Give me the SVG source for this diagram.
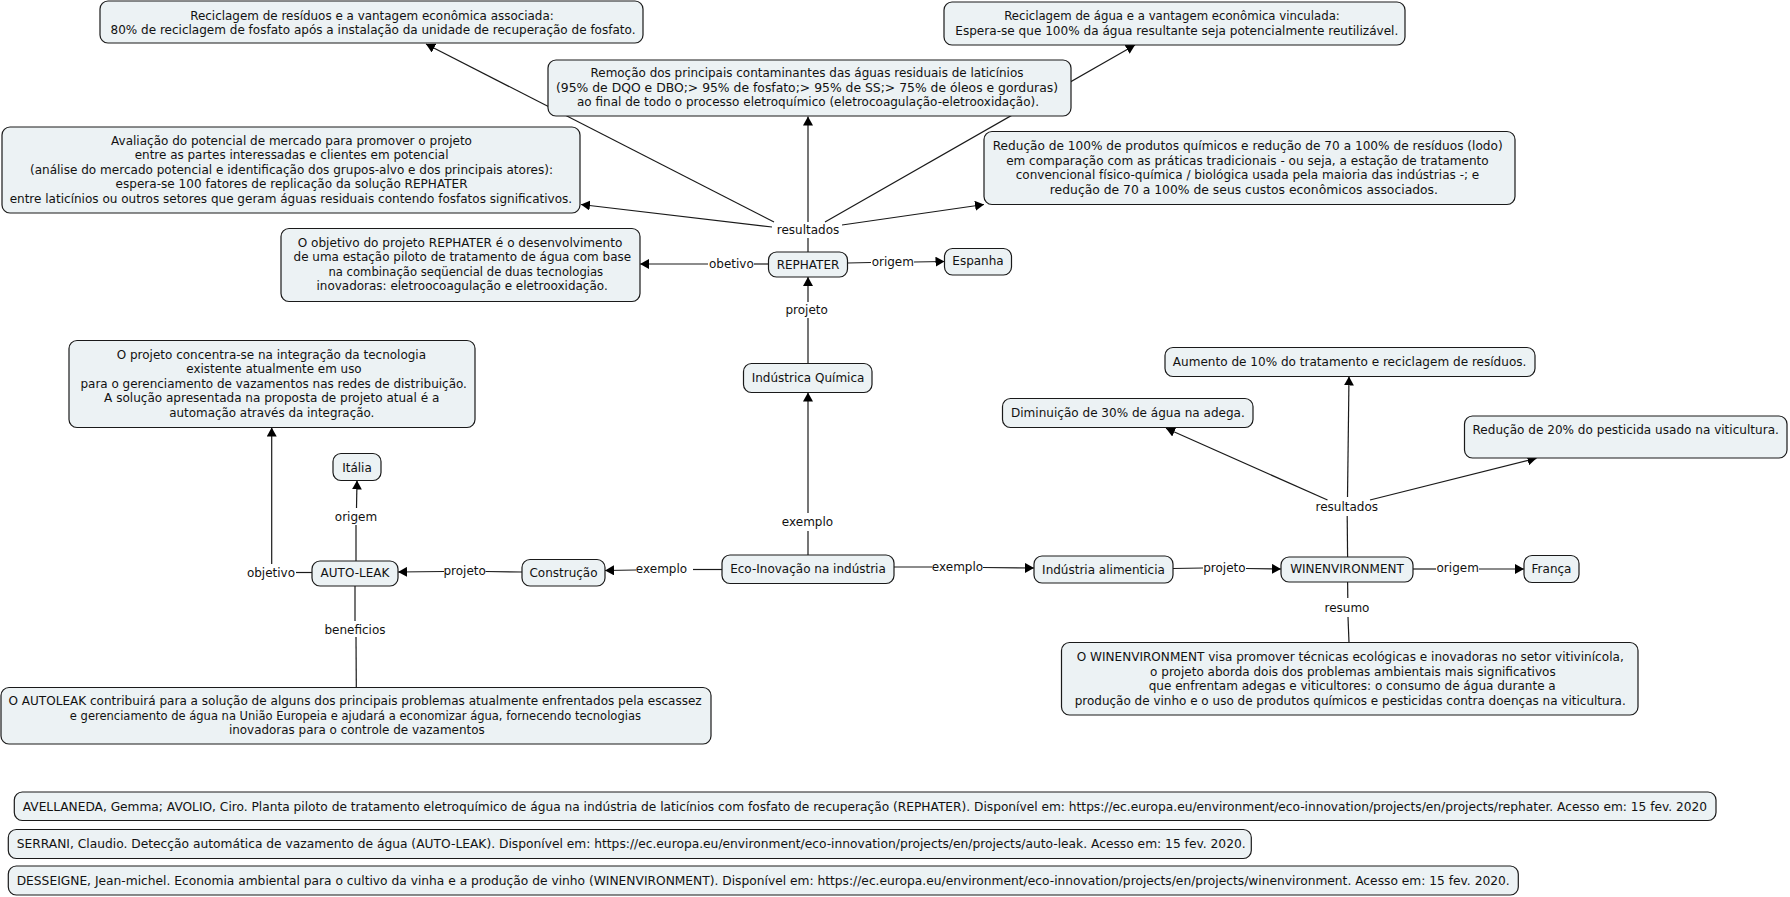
<svg xmlns="http://www.w3.org/2000/svg" width="1790" height="897" viewBox="0 0 1790 897">
<style>
  .n rect { fill: #ecf2f4; stroke: #1a1a1a; stroke-width: 1.2; }
  text { font-family: "DejaVu Sans", Verdana, sans-serif; font-size: 12px; fill: #111; text-anchor: middle; }
  .c line { stroke: #1a1a1a; stroke-width: 1.2; fill: none; }
  .c .a { marker-end: url(#arr); }
</style>
<defs>
  <marker id="arr" viewBox="0 0 9 10" refX="9" refY="5" markerWidth="9" markerHeight="10" markerUnits="userSpaceOnUse" orient="auto">
    <path d="M0,0 L9,5 L0,10 z" fill="#000"/>
  </marker>
</defs>
<rect width="1790" height="897" fill="#fff"/>

<g id="connectors" class="c">
  <line x1="808" y1="252" x2="808" y2="238"/>
  <line class="a" x1="808" y1="222" x2="808" y2="116.5"/>
  <line class="a" x1="774" y1="222" x2="426" y2="44"/>
  <line class="a" x1="825" y1="222" x2="1135" y2="45"/>
  <line class="a" x1="772" y1="227" x2="581" y2="204.5"/>
  <line class="a" x1="842" y1="225" x2="984" y2="204.5"/>
  <line x1="768.5" y1="264" x2="754" y2="264"/>
  <line class="a" x1="708" y1="264" x2="640" y2="264"/>
  <line x1="847.5" y1="263" x2="871" y2="262.5"/>
  <line class="a" x1="914" y1="262" x2="944.5" y2="261.5"/>
  <line x1="808" y1="363.5" x2="808" y2="318"/>
  <line class="a" x1="808" y1="302" x2="808" y2="277"/>
  <line x1="808" y1="555" x2="808" y2="531"/>
  <line class="a" x1="808" y1="513" x2="808" y2="392.5"/>
  <line x1="722" y1="569.5" x2="693" y2="569.5"/>
  <line class="a" x1="636" y1="570" x2="605" y2="570.5"/>
  <line x1="894" y1="567" x2="932" y2="567"/>
  <line class="a" x1="983" y1="567.5" x2="1034" y2="568"/>
  <line x1="1173" y1="568.5" x2="1203" y2="568"/>
  <line class="a" x1="1246" y1="568.5" x2="1281" y2="569"/>
  <line x1="1413" y1="569" x2="1436" y2="569"/>
  <line class="a" x1="1479" y1="569" x2="1524" y2="569"/>
  <line x1="1347.6" y1="557" x2="1347.2" y2="516"/>
  <line class="a" x1="1347.5" y1="497" x2="1349" y2="376.5"/>
  <line class="a" x1="1327.5" y1="500" x2="1166" y2="428.3"/>
  <line class="a" x1="1370" y1="500" x2="1536.5" y2="458.3"/>
  <line x1="1347.6" y1="582" x2="1347.8" y2="598"/>
  <line x1="1348" y1="617" x2="1349" y2="642.5"/>
  <line x1="522" y1="572" x2="485.5" y2="571.5"/>
  <line class="a" x1="444" y1="571.5" x2="398" y2="572"/>
  <line x1="356" y1="561" x2="356" y2="525"/>
  <line class="a" x1="356.5" y1="508" x2="357" y2="480.5"/>
  <line x1="312" y1="572.5" x2="296" y2="572.5"/>
  <line class="a" x1="271.7" y1="564" x2="271.7" y2="427.5"/>
  <line x1="355" y1="586" x2="355" y2="621"/>
  <line x1="356" y1="637" x2="356.3" y2="687.5"/>
</g>

<g id="labels">
  <text x="808" y="234">resultados</text>
  <text x="731.4" y="267.5">obetivo</text>
  <text x="892.8" y="266">origem</text>
  <text x="806.7" y="314">projeto</text>
  <text x="807.5" y="526">exemplo</text>
  <text x="661.5" y="573">exemplo</text>
  <text x="957.5" y="571">exemplo</text>
  <text x="1224.4" y="572">projeto</text>
  <text x="1457.7" y="572">origem</text>
  <text x="1346.8" y="511">resultados</text>
  <text x="1347" y="612">resumo</text>
  <text x="356" y="521">origem</text>
  <text x="271" y="576.5">objetivo</text>
  <text x="464.7" y="575">projeto</text>
  <text x="355" y="633.5">beneficios</text>
</g>

<g id="n-reciclagem-residuos" class="n">
  <rect x="100" y="1" width="543" height="42" rx="8"/>
  <text x="372" y="19.5" textLength="363.6" lengthAdjust="spacingAndGlyphs">Reciclagem de resíduos e a vantagem econômica associada:</text>
  <text x="373" y="34" textLength="525" lengthAdjust="spacingAndGlyphs">80% de reciclagem de fosfato após a instalação da unidade de recuperação de fosfato.</text>
</g>
<g id="n-remocao" class="n">
  <rect x="548" y="60" width="523" height="56" rx="8"/>
  <text x="807" y="77" textLength="433" lengthAdjust="spacingAndGlyphs">Remoção dos principais contaminantes das águas residuais de laticínios</text>
  <text x="807" y="91.5" textLength="502" lengthAdjust="spacingAndGlyphs">(95% de DQO e DBO;&gt; 95% de fosfato;&gt; 95% de SS;&gt; 75% de óleos e gorduras)</text>
  <text x="808" y="106" textLength="462" lengthAdjust="spacingAndGlyphs">ao final de todo o processo eletroquímico (eletrocoagulação-eletrooxidação).</text>
</g>
<g id="n-reciclagem-agua" class="n">
  <rect x="944" y="2" width="461" height="43" rx="8"/>
  <text x="1172" y="20" textLength="335.6" lengthAdjust="spacingAndGlyphs">Reciclagem de água e a vantagem econômica vinculada:</text>
  <text x="1176.8" y="35" textLength="443" lengthAdjust="spacingAndGlyphs">Espera-se que 100% da água resultante seja potencialmente reutilizável.</text>
</g>
<g id="n-avaliacao" class="n">
  <rect x="2" y="127" width="578" height="86" rx="8"/>
  <text x="291.5" y="144.5" textLength="360.9" lengthAdjust="spacingAndGlyphs">Avaliação do potencial de mercado para promover o projeto</text>
  <text x="291.6" y="159" textLength="313.8" lengthAdjust="spacingAndGlyphs">entre as partes interessadas e clientes em potencial</text>
  <text x="291.5" y="173.5" textLength="523.1" lengthAdjust="spacingAndGlyphs">(análise do mercado potencial e identificação dos grupos-alvo e dos principais atores):</text>
  <text x="291.6" y="188" textLength="352" lengthAdjust="spacingAndGlyphs">espera-se 100 fatores de replicação da solução REPHATER</text>
  <text x="290.9" y="202.5" textLength="562.5" lengthAdjust="spacingAndGlyphs">entre laticínios ou outros setores que geram águas residuais contendo fosfatos significativos.</text>
</g>
<g id="n-reducao-100" class="n">
  <rect x="984" y="131.5" width="531" height="73" rx="8"/>
  <text x="1247.7" y="150" textLength="510" lengthAdjust="spacingAndGlyphs">Redução de 100% de produtos químicos e redução de 70 a 100% de resíduos (lodo)</text>
  <text x="1247.4" y="164.5" textLength="482.5" lengthAdjust="spacingAndGlyphs">em comparação com as práticas tradicionais - ou seja, a estação de tratamento</text>
  <text x="1247.5" y="179" textLength="463.6" lengthAdjust="spacingAndGlyphs">convencional físico-química / biológica usada pela maioria das indústrias -; e</text>
  <text x="1243.9" y="193.5" textLength="388.2" lengthAdjust="spacingAndGlyphs">redução de 70 a 100% de seus custos econômicos associados.</text>
</g>
<g id="n-objetivo-rephater" class="n">
  <rect x="281" y="228.5" width="359" height="73" rx="8"/>
  <text x="460" y="246.5" textLength="324.6" lengthAdjust="spacingAndGlyphs">O objetivo do projeto REPHATER é o desenvolvimento</text>
  <text x="462.3" y="261" textLength="337.5" lengthAdjust="spacingAndGlyphs">de uma estação piloto de tratamento de água com base</text>
  <text x="465.8" y="275.5" textLength="274.7" lengthAdjust="spacingAndGlyphs">na combinação seqüencial de duas tecnologias</text>
  <text x="462.1" y="290" textLength="291.2" lengthAdjust="spacingAndGlyphs">inovadoras: eletroocoagulação e eletrooxidação.</text>
</g>
<g id="n-rephater" class="n">
  <rect x="768.5" y="252" width="79" height="25" rx="8"/>
  <text x="808" y="268.5">REPHATER</text>
</g>
<g id="n-espanha" class="n">
  <rect x="944.5" y="248.5" width="67" height="26.5" rx="8"/>
  <text x="978" y="265">Espanha</text>
</g>
<g id="n-industria-quimica" class="n">
  <rect x="743.5" y="363.5" width="128.5" height="29" rx="8"/>
  <text x="808" y="382">Indústrica Química</text>
</g>
<g id="n-autoleak-objetivo" class="n">
  <rect x="69" y="340.5" width="406" height="87" rx="8"/>
  <text x="271.4" y="358.5" textLength="309.3" lengthAdjust="spacingAndGlyphs">O projeto concentra-se na integração da tecnologia</text>
  <text x="274" y="373" textLength="175.3" lengthAdjust="spacingAndGlyphs">existente atualmente em uso</text>
  <text x="273.7" y="387.5" textLength="386.5" lengthAdjust="spacingAndGlyphs">para o gerenciamento de vazamentos nas redes de distribuição.</text>
  <text x="271.7" y="402" textLength="335.2" lengthAdjust="spacingAndGlyphs">A solução apresentada na proposta de projeto atual é a</text>
  <text x="271.8" y="416.5" textLength="205.1" lengthAdjust="spacingAndGlyphs">automação através da integração.</text>
</g>
<g id="n-italia" class="n">
  <rect x="333" y="453.5" width="48" height="27" rx="8"/>
  <text x="357" y="471.5">Itália</text>
</g>
<g id="n-autoleak" class="n">
  <rect x="312" y="561" width="86" height="25" rx="8"/>
  <text x="355" y="577">AUTO-LEAK</text>
</g>
<g id="n-construcao" class="n">
  <rect x="522" y="559.5" width="83" height="26.5" rx="8"/>
  <text x="563.5" y="576.5">Construção</text>
</g>
<g id="n-eco-inovacao" class="n">
  <rect x="722" y="555" width="172" height="28.5" rx="8"/>
  <text x="808" y="572.5">Eco-Inovação na indústria</text>
</g>
<g id="n-industria-alimenticia" class="n">
  <rect x="1034" y="556" width="139" height="27" rx="8"/>
  <text x="1103.5" y="573.5">Indústria alimenticia</text>
</g>
<g id="n-winenvironment" class="n">
  <rect x="1281" y="557" width="132" height="25" rx="8"/>
  <text x="1347" y="573">WINENVIRONMENT</text>
</g>
<g id="n-franca" class="n">
  <rect x="1524" y="555.5" width="55" height="27" rx="8"/>
  <text x="1551.5" y="572.5">França</text>
</g>
<g id="n-aumento" class="n">
  <rect x="1165" y="347.5" width="370" height="29" rx="8"/>
  <text x="1349.6" y="366" textLength="353.6" lengthAdjust="spacingAndGlyphs">Aumento de 10% do tratamento e reciclagem de resíduos.</text>
</g>
<g id="n-diminuicao" class="n">
  <rect x="1002.5" y="398.5" width="250.5" height="29" rx="8"/>
  <text x="1127.9" y="417" textLength="233.8" lengthAdjust="spacingAndGlyphs">Diminuição de 30% de água na adega.</text>
</g>
<g id="n-reducao-20" class="n">
  <rect x="1464.5" y="416" width="322.5" height="42" rx="8"/>
  <text x="1625.7" y="433.5" textLength="306.4" lengthAdjust="spacingAndGlyphs">Redução de 20% do pesticida usado na viticultura.</text>
</g>
<g id="n-autoleak-beneficios" class="n">
  <rect x="1" y="687.5" width="710" height="56.5" rx="8"/>
  <text x="355.1" y="705" textLength="693.2" lengthAdjust="spacingAndGlyphs">O AUTOLEAK contribuirá para a solução de alguns dos principais problemas atualmente enfrentados pela escassez</text>
  <text x="355.4" y="719.5" textLength="571.1" lengthAdjust="spacingAndGlyphs">e gerenciamento de água na União Europeia e ajudará a economizar água, fornecendo tecnologias</text>
  <text x="356.8" y="734" textLength="255.8" lengthAdjust="spacingAndGlyphs">inovadoras para o controle de vazamentos</text>
</g>
<g id="n-winenvironment-resumo" class="n">
  <rect x="1061.5" y="642.5" width="576.5" height="72.5" rx="8"/>
  <text x="1350.2" y="661" textLength="547.1" lengthAdjust="spacingAndGlyphs">O WINENVIRONMENT visa promover técnicas ecológicas e inovadoras no setor vitivinícola,</text>
  <text x="1352.9" y="675.5" textLength="405.6" lengthAdjust="spacingAndGlyphs">o projeto aborda dois dos problemas ambientais mais significativos</text>
  <text x="1352.2" y="690" textLength="407.1" lengthAdjust="spacingAndGlyphs">que enfrentam adegas e viticultores: o consumo de água durante a</text>
  <text x="1350.2" y="704.5" textLength="551.1" lengthAdjust="spacingAndGlyphs">produção de vinho e o uso de produtos químicos e pesticidas contra doenças na viticultura.</text>
</g>
<g id="n-ref-avellaneda" class="n">
  <rect x="14.3" y="792" width="1701.7" height="28.5" rx="8"/>
  <text x="864.9" y="810.5" textLength="1684.3" lengthAdjust="spacingAndGlyphs">AVELLANEDA, Gemma; AVOLIO, Ciro. Planta piloto de tratamento eletroquímico de água na indústria de laticínios com fosfato de recuperação (REPHATER). Disponível em: https://ec.europa.eu/environment/eco-innovation/projects/en/projects/rephater. Acesso em: 15 fev. 2020</text>
</g>
<g id="n-ref-serrani" class="n">
  <rect x="8.3" y="829.5" width="1243" height="29" rx="8"/>
  <text x="631.2" y="848" textLength="1228.9" lengthAdjust="spacingAndGlyphs">SERRANI, Claudio. Detecção automática de vazamento de água (AUTO-LEAK). Disponível em: https://ec.europa.eu/environment/eco-innovation/projects/en/projects/auto-leak. Acesso em: 15 fev. 2020.</text>
</g>
<g id="n-ref-desseigne" class="n">
  <rect x="8.3" y="866" width="1510" height="29" rx="8"/>
  <text x="763.2" y="884.5" textLength="1493" lengthAdjust="spacingAndGlyphs">DESSEIGNE, Jean-michel. Economia ambiental para o cultivo da vinha e a produção de vinho (WINENVIRONMENT). Disponível em: https://ec.europa.eu/environment/eco-innovation/projects/en/projects/winenvironment. Acesso em: 15 fev. 2020.</text>
</g>
</svg>
